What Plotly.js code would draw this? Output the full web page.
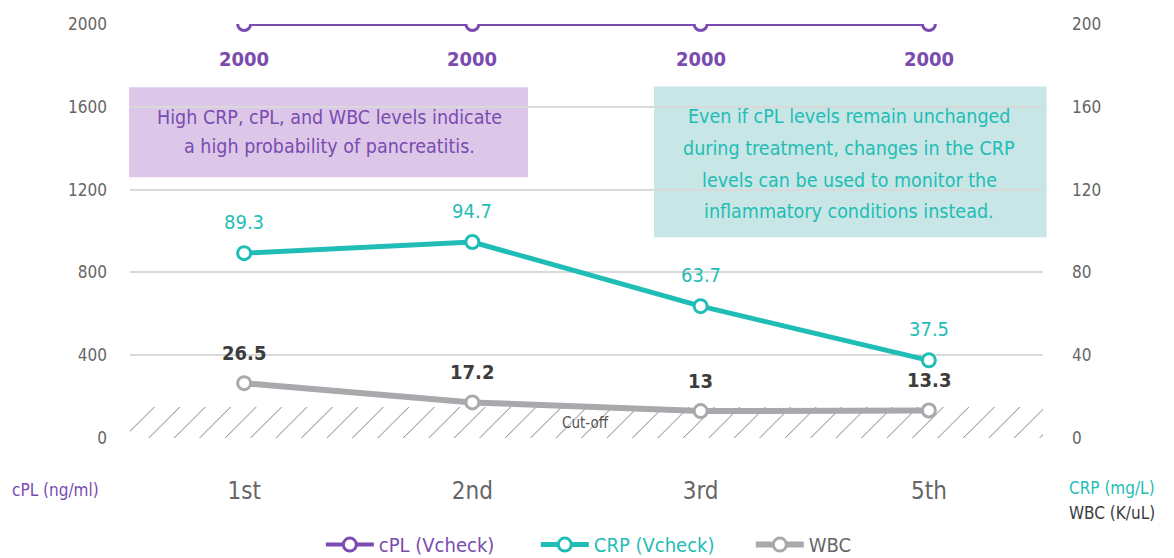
<!DOCTYPE html>
<html>
<head>
<meta charset="utf-8">
<script src="https://cdn.plot.ly/plotly-3.0.1.min.js"></script>
<style>html,body{margin:0;padding:0;background:#fff;}#chart{width:1174px;height:558px;}</style>
</head>
<body>
<div id="chart"></div>
<script>
// ---- data ----
const visits = ["1st", "2nd", "3rd", "5th"];
const cplValues = [2000, 2000, 2000, 2000];
const crpValues = [89.3, 94.7, 63.7, 37.5];
const wbcValues = [26.5, 17.2, 13, 13.3];
const cutOff = 15;
const leftTicks = [0, 400, 800, 1200, 1600, 2000];
const rightTicks = [0, 40, 80, 120, 160, 200];
const noteLeft = ["High CRP, cPL, and WBC levels indicate", "a high probability of pancreatitis."];
const noteRight = ["Even if cPL levels remain unchanged", "during treatment, changes in the CRP",
                   "levels can be used to monitor the", "inflammatory conditions instead."];

// ---- style ----
const FONT = "DejaVu Sans Condensed, Liberation Sans Narrow, sans-serif";
const PURPLE = "#7a4bb0";
const TEAL = "#1fbdb6";
const GRAYLINE = "#a9a9ad";
const DARK = "#3c3c3c";
const TICKGRAY = "#666666";

const xIdx = visits.map((_, i) => i);

const traces = [
  {
    x: [-0.5, 3.5], y: [cutOff, cutOff], yaxis: "y2",
    type: "scatter", mode: "lines", fill: "tozeroy",
    line: {width: 0, color: "rgba(0,0,0,0)"},
    fillcolor: "rgba(0,0,0,0)",
    fillpattern: {shape: "/", fgcolor: "#6f6f6f", bgcolor: "rgba(255,255,255,0)", size: 18, solidity: 0.05},
    showlegend: false, hoverinfo: "skip"
  },
  {
    x: xIdx, y: cplValues, yaxis: "y", name: '<span style="color:' + PURPLE + '">cPL (Vcheck)</span>',
    type: "scatter", mode: "lines+markers",
    line: {color: PURPLE, width: 4},
    marker: {size: 13, color: "#ffffff", line: {color: PURPLE, width: 3}}
  },
  {
    x: xIdx, y: crpValues, yaxis: "y2", name: '<span style="color:' + TEAL + '">CRP (Vcheck)</span>',
    type: "scatter", mode: "lines+markers",
    line: {color: TEAL, width: 5},
    marker: {size: 13, color: "#ffffff", line: {color: TEAL, width: 3}}
  },
  {
    x: xIdx, y: wbcValues, yaxis: "y2", name: '<span style="color:#666">WBC</span>',
    type: "scatter", mode: "lines+markers",
    line: {color: GRAYLINE, width: 6},
    marker: {size: 13, color: "#ffffff", line: {color: GRAYLINE, width: 3}}
  }
];

const annotations = [];
xIdx.forEach(i => {
  annotations.push({x: i, y: cplValues[i], xref: "x", yref: "y", text: String(cplValues[i]), showarrow: false,
    yshift: -35, font: {family: FONT, size: 20, color: PURPLE, weight: 600}});
  annotations.push({x: i, y: crpValues[i], xref: "x", yref: "y2", text: String(crpValues[i]), showarrow: false,
    yshift: 31, font: {family: FONT, size: 20, color: TEAL}});
  annotations.push({x: i, y: wbcValues[i], xref: "x", yref: "y2", text: String(wbcValues[i]), showarrow: false,
    yshift: 30, font: {family: FONT, size: 20, color: DARK, weight: 600}});
});
annotations.push({x: 1.5, y: cutOff / 2, xref: "x", yref: "y2", text: "Cut-off", showarrow: false,
  xshift: -1, yshift: -1, font: {family: FONT, size: 15, color: "#555"}});
// axis titles
annotations.push({xref: "paper", yref: "paper", x: -0.131, y: -0.125, xanchor: "left", yanchor: "middle",
  text: "cPL (ng/ml)", showarrow: false, font: {family: FONT, size: 17, color: PURPLE}});
annotations.push({xref: "paper", yref: "paper", x: 1.0, y: -0.121, xshift: 24, xanchor: "left", yanchor: "middle",
  text: "CRP (mg/L)", showarrow: false, font: {family: FONT, size: 17, color: TEAL}});
annotations.push({xref: "paper", yref: "paper", x: 1.0, y: -0.181, xshift: 24, xanchor: "left", yanchor: "middle",
  text: "WBC (K/uL)", showarrow: false, font: {family: FONT, size: 17, color: DARK}});
// note texts
const leftLineY = [0.774, 0.704];
noteLeft.forEach((t, k) => annotations.push({xref: "paper", yref: "paper", x: 0.218, y: leftLineY[k],
  xanchor: "center", yanchor: "middle", text: t, showarrow: false,
  font: {family: FONT, size: 19.5, color: PURPLE}}));
const rightLineY = [0.777, 0.700, 0.622, 0.547];
noteRight.forEach((t, k) => annotations.push({xref: "paper", yref: "paper", x: 0.788, y: rightLineY[k],
  xanchor: "center", yanchor: "middle", text: t, showarrow: false,
  font: {family: FONT, size: 19.5, color: TEAL}}));

const shapes = [
  {type: "rect", xref: "paper", yref: "paper", x0: -0.001, x1: 0.436, y0: 0.630, y1: 0.847,
    fillcolor: "#dcc7e8", line: {width: 0}, layer: "between"},
  {type: "rect", xref: "paper", yref: "paper", x0: 0.574, x1: 1.004, y0: 0.485, y1: 0.849,
    fillcolor: "#c7e6e5", line: {width: 0}, layer: "between"}
];

const layout = {
  width: 1174, height: 558,
  margin: {l: 130, r: 131, t: 23.5, b: 120, autoexpand: false},
  paper_bgcolor: "#ffffff", plot_bgcolor: "#ffffff",
  font: {family: FONT, color: TICKGRAY},
  showlegend: true,
  legend: {orientation: "h", x: 0.209, xanchor: "left", xref: "paper", yref: "container", y: 0.024, yanchor: "middle",
    font: {family: FONT, size: 20, color: "#666"}, tracegroupgap: 0, itemwidth: 48, entrywidth: 152},
  xaxis: {range: [-0.5, 3.5], tickvals: xIdx, ticktext: visits, showgrid: false, zeroline: false,
    showline: false, ticks: "", tickfont: {family: FONT, size: 24, color: TICKGRAY}, ticklabelstandoff: 36},
  yaxis: {range: [0, 2000], tickvals: leftTicks, showgrid: true, gridcolor: "#d9d9d9", gridwidth: 2,
    zeroline: false, showline: false, ticks: "", ticklabelstandoff: 22,
    tickfont: {family: FONT, size: 17, color: TICKGRAY}},
  yaxis2: {range: [0, 200], tickvals: rightTicks, overlaying: "y", side: "right", showgrid: false,
    zeroline: false, showline: false, ticks: "", ticklabelstandoff: 28,
    tickfont: {family: FONT, size: 17, color: TICKGRAY}},
  shapes: shapes,
  annotations: annotations
};

Plotly.newPlot("chart", traces, layout, {displayModeBar: false, staticPlot: true});
</script>
</body>
</html>
